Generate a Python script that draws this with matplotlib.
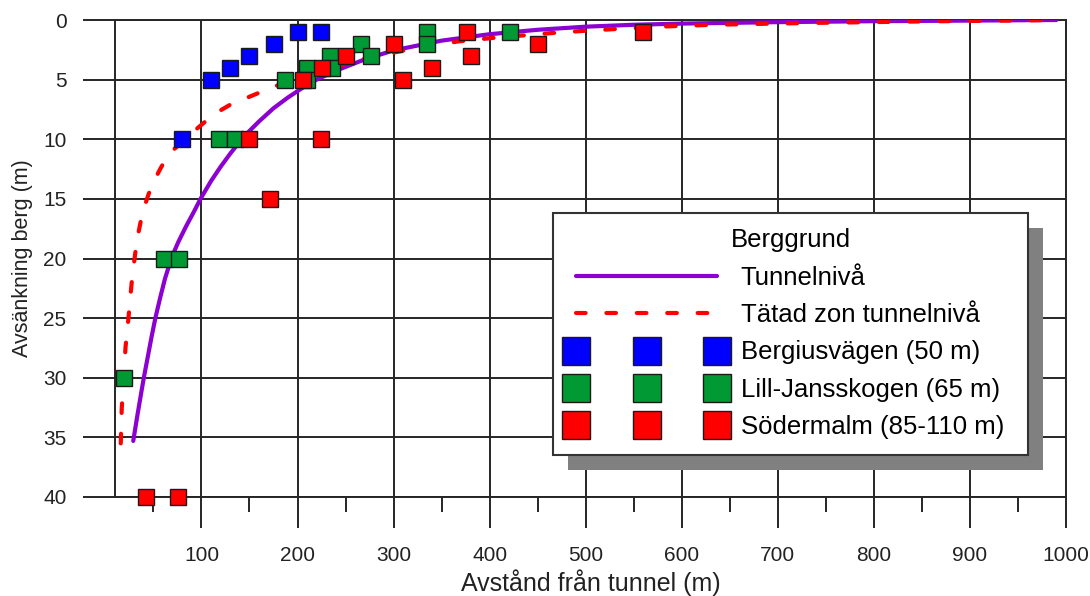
import numpy as np
import matplotlib.pyplot as plt
from matplotlib.patches import Rectangle

plt.rcParams['font.family'] = ['Liberation Sans', 'DejaVu Sans']

# curves (distance m, drawdown m)
tunnel_x = [29, 33, 37, 40, 44, 48, 52, 57, 62, 69, 76, 84, 92, 99, 110, 120, 130, 140, 150, 160,
            175, 190, 205, 220, 240, 270, 300, 350, 400, 450, 500, 550, 600, 700, 800, 900, 990]
tunnel_y = [35.3, 33.3, 31.4, 30, 28.3, 26.6, 25, 23.3, 21.7, 19.9, 18.6, 17.3, 16.1, 15, 13.5, 12.3,
            11.2, 10.2, 9.3, 8.5, 7.4, 6.5, 5.7, 5.0, 4.25, 3.3, 2.55, 1.73, 1.19, 0.82, 0.56, 0.4,
            0.3, 0.18, 0.1, 0.05, 0.0]
sealed_x = [16, 17, 19, 21, 24, 26, 28, 31, 34, 37, 40, 45, 50, 57, 64, 72, 80, 94, 113, 130, 148,
            175, 200, 220, 245, 266, 290, 320, 367, 404, 464, 500, 533, 580, 632, 731, 850, 992]
sealed_y = [35.5, 32.6, 30, 27.4, 25, 23.2, 21.5, 19.6, 18, 16.8, 15.8, 14.6, 13.6, 12.5, 11.5, 10.8,
            10.2, 9.2, 7.9, 7.1, 6.5, 5.6, 4.9, 4.4, 3.8, 3.3, 2.9, 2.4, 1.8, 1.5, 1.1, 0.9, 0.75,
            0.55, 0.4, 0.25, 0.12, 0.0]

# observations
blue_x = [80, 110, 130, 150, 175, 200, 224]
blue_y = [10, 5, 4, 3, 2, 1, 1]
green_x = [19, 61, 77, 118, 135, 187, 210, 210, 234, 236, 266, 276, 335, 335, 421]
green_y = [30, 20, 20, 10, 10, 5, 4, 5, 3, 4, 2, 3, 1, 2, 1]
red_x = [42, 76, 171, 150, 224, 206, 225, 250, 300, 310, 340, 381, 376, 450, 560]
red_y = [40, 40, 15, 10, 10, 5, 4, 3, 2, 5, 4, 3, 1, 2, 1]

labels = ['Tunnelnivå', 'Tätad zon tunnelnivå', 'Bergiusvägen (50 m)',
          'Lill-Jansskogen (65 m)', 'Södermalm (85-110 m)']

W, H = 1090, 596
fig = plt.figure(figsize=(W / 100, H / 100), dpi=100)
ax = fig.add_axes([115 / W, 1 - 497 / H, 951 / W, 477 / H])

gc = '#262626'
ax.plot(tunnel_x, tunnel_y, color='#8C00D2', lw=3, zorder=3, label=labels[0],
        solid_capstyle='round', solid_joinstyle='round')
ax.plot(sealed_x, sealed_y, color='#FF0000', lw=3, zorder=3, label=labels[1],
        dashes=(2.3, 5.0), dash_capstyle='round')

mk = dict(ls='none', marker='s', ms=12, mec='#1a1a1a', mew=1.0, zorder=4, clip_on=False)
ax.plot(blue_x, blue_y, mfc='#0000FF', label=labels[2], **mk)
ax.plot(green_x, green_y, mfc='#009933', label=labels[3], **mk)
ax.plot(red_x, red_y, mfc='#FF0000', label=labels[4], **mk)

ax.set_xlim(10, 1000)
ax.set_ylim(40, 0)
ax.set_xticks(np.arange(100, 1001, 100))
ax.set_xticks(np.arange(50, 1000, 100), minor=True)
ax.set_yticks(np.arange(0, 41, 5))

ax.grid(True, which='major', color=gc, lw=1.4)
ax.set_axisbelow(True)
for s in ax.spines.values():
    s.set_color(gc)
    s.set_linewidth(1.4)

ax.tick_params(axis='x', which='major', direction='out', length=22, width=1.4,
               color=gc, labelsize=15, pad=13, labelcolor='#222222')
ax.tick_params(axis='x', which='minor', direction='out', length=11, width=1.4, color=gc)
ax.tick_params(axis='y', which='major', direction='out', length=23, width=1.4,
               color=gc, labelsize=15, pad=12, labelcolor='#222222')

ax.set_xlabel('Avstånd från tunnel (m)', fontsize=18, color='#222222')
ax.xaxis.set_label_coords(0.5, -0.152)
ax.set_ylabel('Avsänkning berg (m)', fontsize=15.5, color='#222222')
ax.yaxis.set_label_coords(-0.086, 0.5)

leg = ax.legend(title='Berggrund', loc='upper left',
                bbox_to_anchor=((553 - 115) / 951, (497 - 213) / 477, 475 / 951, 0),
                mode='expand', borderaxespad=0, fontsize=18.5, title_fontsize=18.5,
                numpoints=3, markerscale=1.7, handlelength=6.1, handletextpad=0.6,
                labelspacing=0.52, borderpad=0.6, fancybox=False, framealpha=1)
leg.get_frame().set_edgecolor('#333333')
leg.get_frame().set_linewidth(1.5)
leg.set_zorder(6)

fig.canvas.draw()
bb = leg.get_window_extent().transformed(ax.transAxes.inverted())
ax.add_patch(Rectangle((bb.x0 + 15 / 951, bb.y0 - 15 / 477), bb.width, bb.height,
                       transform=ax.transAxes, facecolor='#808080', edgecolor='none',
                       zorder=5.5, clip_on=False))

fig.savefig('out.png', dpi=100)
